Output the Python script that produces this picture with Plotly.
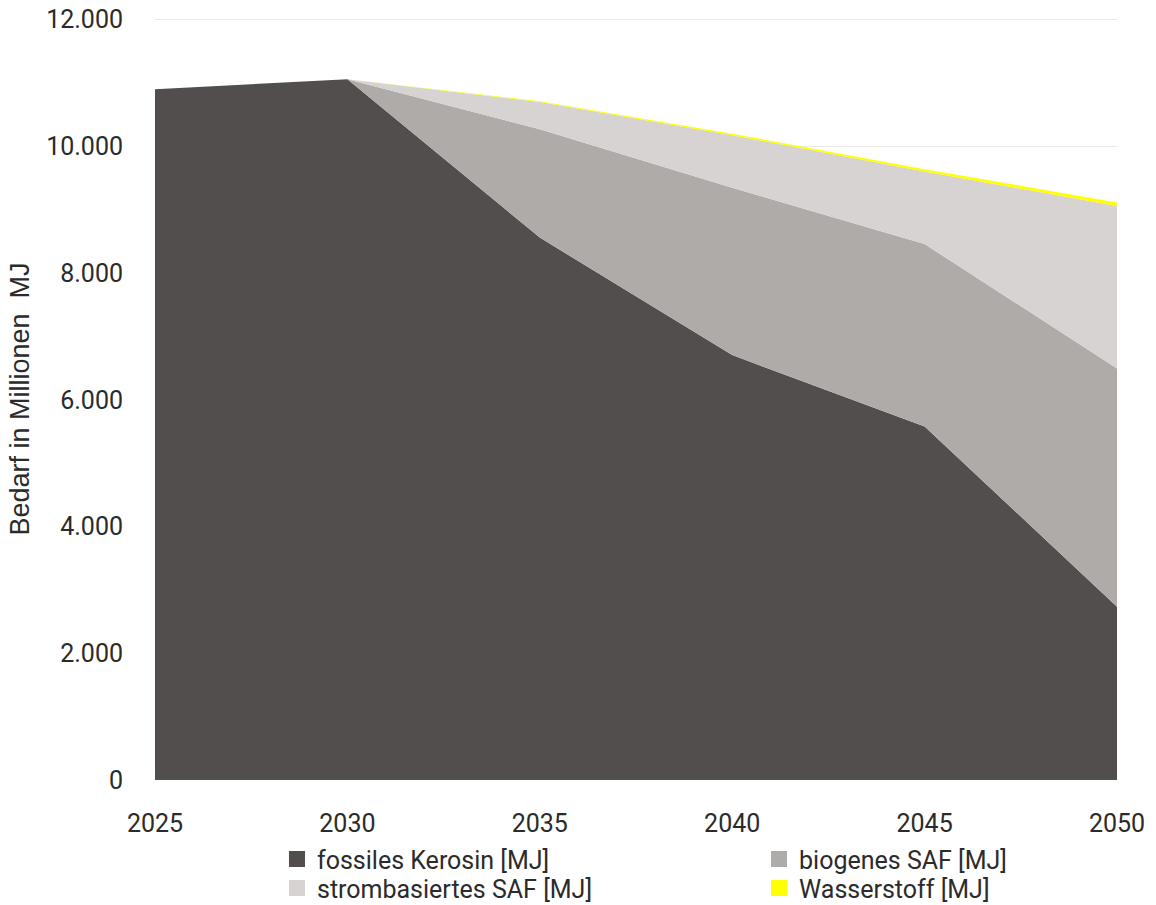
import plotly.graph_objects as go

years = [2025, 2030, 2035, 2040, 2045, 2050]
fossil = [10900, 11060, 8560, 6705, 5578, 2735]
biogen = [0, 0, 1710, 2640, 2880, 3760]
strom = [0, 0, 430, 830, 1145, 2565]
h2 = [0, 0, 12, 25, 35, 55]

names = ["fossiles Kerosin [MJ]", "biogenes SAF [MJ]",
         "strombasiertes SAF [MJ]", "Wasserstoff [MJ]"]
colors = ["#524e4d", "#afaba9", "#d7d3d3", "#ffff00"]
series = [fossil, biogen, strom, h2]

# one legend box per entry: two columns, two rows
legend_ids = ["legend", "legend2", "legend3", "legend4"]
legend_x = [0.1268, 0.6279, 0.1268, 0.6279]
legend_y = [-0.0737, -0.0737, -0.1118, -0.1118]

FONT = "Roboto"
TXT = "#2b2b2b"
fig = go.Figure()

# stacked areas
for name, col, vals in zip(names, colors, series):
    fig.add_trace(go.Scatter(
        x=years, y=vals, name=name, stackgroup="one", mode="lines",
        line=dict(width=0, color=col),
        fillcolor=col, showlegend=False, hoverinfo="x+y+name"))

# square legend markers
for name, col, lg in zip(names, colors, legend_ids):
    fig.add_trace(go.Scatter(
        x=[None], y=[None], name=name, mode="markers",
        marker=dict(symbol="square", size=17, color=col),
        showlegend=True, legend=lg))

legends = {}
for lg, lx, ly in zip(legend_ids, legend_x, legend_y):
    legends[lg] = dict(
        orientation="v", xref="paper", yref="paper",
        x=lx, y=ly, xanchor="left", yanchor="top",
        font=dict(family=FONT, size=25, color=TXT),
        bgcolor="rgba(0,0,0,0)",
    )

fig.update_layout(
    width=1156, height=905,
    margin=dict(l=155, r=39, t=18, b=125, autoexpand=False),
    paper_bgcolor="white", plot_bgcolor="white",
    separators=",.",
    font=dict(family=FONT, size=25, color=TXT),
    xaxis=dict(
        range=[2025, 2050], tickvals=years, showgrid=False, zeroline=False,
        showline=False, ticks="", ticklabelstandoff=26,
        tickfont=dict(family=FONT, size=25, color=TXT),
    ),
    yaxis=dict(
        range=[0, 12025], tickvals=[0, 2000, 4000, 6000, 8000, 10000, 12000],
        tickformat=",d", showgrid=True, gridcolor="#ebe8e8", gridwidth=1,
        zeroline=False, showline=False, ticks="", ticklabelstandoff=31,
        tickfont=dict(family=FONT, size=25, color=TXT),
        title=dict(text="Bedarf in Millionen\u00a0 MJ", standoff=8,
                   font=dict(family="Liberation Sans", size=27, color=TXT)),
    ),
    **legends,
)

fig.write_html("out.html")
